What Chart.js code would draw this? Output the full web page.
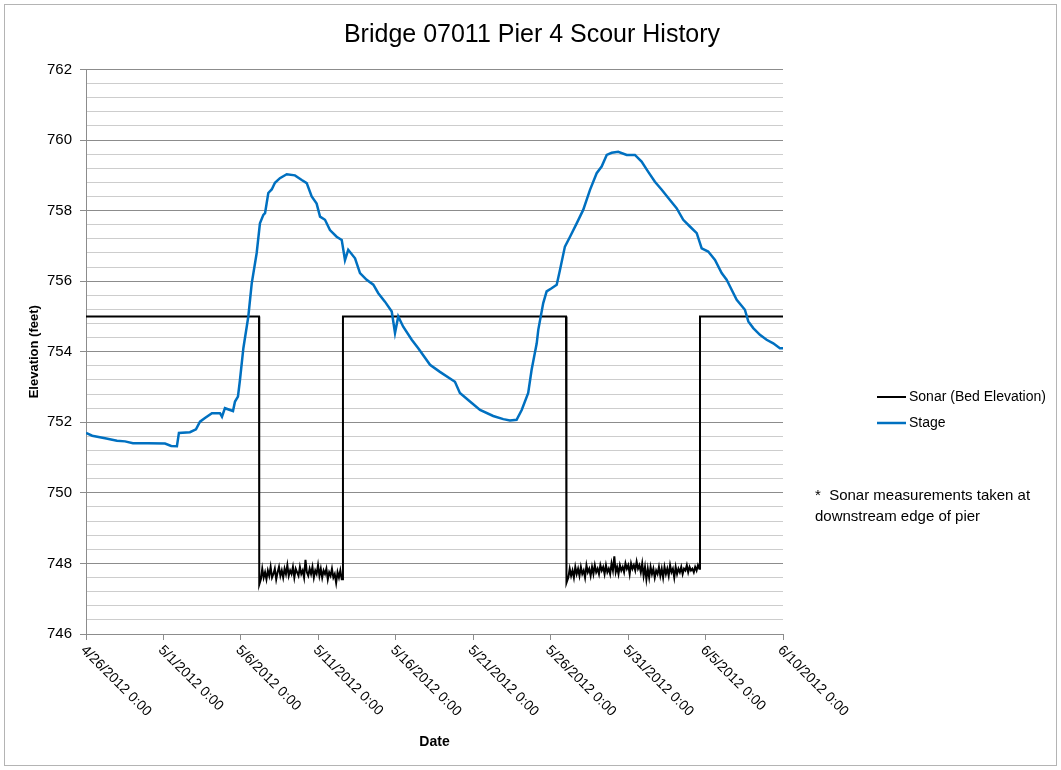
<!DOCTYPE html>
<html>
<head>
<meta charset="utf-8">
<title>Bridge 07011 Pier 4 Scour History</title>
<script src="https://cdn.jsdelivr.net/npm/chart.js@4"></script>
<style>
  body { margin: 0; background: #fff; }
  canvas { display: block; }
</style>
</head>
<body>
<canvas id="scourChart" width="1061" height="770"></canvas>
<script>
// x values are days since 4/26/2012 0:00
var xTickDays = [0, 5, 10, 15, 20, 25, 30, 35, 40, 45];
var xTickLabels = ['4/26/2012 0:00', '5/1/2012 0:00', '5/6/2012 0:00', '5/11/2012 0:00', '5/16/2012 0:00',
  '5/21/2012 0:00', '5/26/2012 0:00', '5/31/2012 0:00', '6/5/2012 0:00', '6/10/2012 0:00'];

// river stage (ft)
var stageDay = [0, 0.4, 1.23, 2.0, 2.52, 3.03, 4.0, 5.1, 5.5, 5.87, 6.0, 6.71, 7.1, 7.36, 7.68, 8.13, 8.65, 8.78,
  8.97, 9.49, 9.62, 9.81, 9.94, 10.16, 10.48, 10.7, 11.02, 11.23, 11.45, 11.56, 11.77, 11.99, 12.2, 12.52,
  12.96, 13.49, 13.93, 14.25, 14.57, 14.89, 15.11, 15.43, 15.75, 16.18, 16.51, 16.72, 16.93, 17.37, 17.69,
  18.12, 18.55, 18.87, 19.3, 19.74, 19.95, 20.16, 20.48, 21.03, 21.45, 22.21, 22.85, 23.82, 24.14, 24.79,
  25.44, 26.29, 26.94, 27.37, 27.8, 28.13, 28.55, 28.77, 29.1, 29.2, 29.52, 29.74, 30.06, 30.39, 30.6,
  30.92, 31.25, 31.68, 32.1, 32.54, 32.97, 33.29, 33.62, 33.94, 34.36, 34.91, 35.44, 35.87, 36.3, 36.73,
  37.17, 37.7, 38.13, 38.56, 38.99, 39.43, 39.75, 40.17, 40.61, 41.04, 41.36, 41.58, 42.01, 42.54, 42.76,
  43.08, 43.51, 43.94, 44.37, 44.8, 45.0];
var stageFt = [751.70, 751.62, 751.55, 751.48, 751.46, 751.41, 751.41, 751.40, 751.33, 751.32, 751.70, 751.72,
  751.80, 752.02, 752.12, 752.26, 752.26, 752.16, 752.40, 752.32, 752.59, 752.73, 753.20, 754.10, 755.00,
  755.94, 756.80, 757.64, 757.88, 757.93, 758.50, 758.60, 758.79, 758.92, 759.03, 759.00, 758.87, 758.78,
  758.40, 758.20, 757.83, 757.74, 757.45, 757.26, 757.17, 756.60, 756.89, 756.65, 756.23, 756.04, 755.90,
  755.66, 755.42, 755.14, 754.53, 755.00, 754.71, 754.34, 754.10, 753.63, 753.43, 753.15, 752.83, 752.59,
  752.35, 752.18, 752.09, 752.05, 752.07, 752.35, 752.83, 753.49, 754.24, 754.62, 755.38, 755.71, 755.80,
  755.90, 756.32, 756.98, 757.26, 757.64, 758.02, 758.59, 759.06, 759.25, 759.58, 759.64, 759.67, 759.58,
  759.58, 759.39, 759.10, 758.82, 758.59, 758.30, 758.07, 757.74, 757.55, 757.36, 756.93, 756.84, 756.60,
  756.23, 756.04, 755.85, 755.47, 755.19, 754.86, 754.67, 754.48, 754.34, 754.24, 754.10, 754.10];

// sonar bed elevation (ft): 755 while the transducer reads nothing,
// bed readings logged every 0.09 day during the two high-water periods
var sonarIdle = 755;
var sonarStep = 0.09;
var sonarRuns = [
  { from: 11.17, to: 16.59, start: 11.20 },
  { from: 30.99, to: 39.64, start: 31.05 }
];
var sonarBed1 = [
  747.40, 747.55, 747.85, 747.60, 747.75, 747.55, 747.80, 747.65, 747.90, 747.60,
  747.70, 747.85, 747.55, 747.75, 747.90, 747.65, 747.80, 747.60, 747.85, 747.70,
  747.95, 747.65, 747.80, 747.70, 747.90, 747.60, 747.85, 747.75, 747.65, 747.90,
  747.70, 747.80, 747.60, 748.10, 747.75, 747.65, 747.85, 747.70, 747.90, 747.60,
  747.80, 747.70, 747.95, 747.65, 747.85, 747.60, 747.80, 747.70, 747.85, 747.55,
  747.75, 747.65, 747.85, 747.60, 747.70, 747.45, 747.75, 747.60, 747.80, 747.55];
var sonarBed2 = [
  747.45, 747.60, 747.85, 747.65, 747.80, 747.60, 747.90, 747.70, 747.85, 747.65,
  747.90, 747.70, 747.80, 747.60, 747.95, 747.75, 747.85, 747.65, 747.90, 747.70,
  747.95, 747.75, 747.85, 747.70, 747.95, 747.80, 747.90, 747.70, 747.95, 747.75,
  747.85, 747.70, 748.00, 747.80, 748.20, 747.75, 747.90, 747.70, 747.95, 747.80,
  747.90, 747.75, 748.00, 747.85, 747.95, 747.70, 748.00, 747.85, 747.95, 747.80,
  748.05, 747.85, 747.95, 747.75, 748.00, 747.65, 747.90, 747.55, 747.85, 747.60,
  747.90, 747.70, 747.85, 747.60, 747.80, 747.70, 747.90, 747.65, 747.85, 747.60,
  747.90, 747.70, 747.85, 747.65, 747.95, 747.75, 747.85, 747.60, 747.90, 747.70,
  747.85, 747.75, 747.90, 747.70, 747.85, 747.80, 747.95, 747.75, 747.90, 747.80,
  747.85, 747.75, 747.90, 747.80, 747.95, 747.85];

function points(xs, ys) {
  return xs.map(function (x, i) { return { x: x, y: ys[i] }; });
}

// idle level with vertical drops into each logged run of bed readings
function sonarPoints() {
  var pts = [{ x: 0, y: sonarIdle }];
  [sonarBed1, sonarBed2].forEach(function (bed, r) {
    var run = sonarRuns[r];
    pts.push({ x: run.from, y: sonarIdle }, { x: run.from, y: bed[0] });
    bed.forEach(function (v, i) {
      pts.push({ x: run.start + i * sonarStep, y: v });
    });
    pts.push({ x: run.to, y: bed[bed.length - 1] }, { x: run.to, y: sonarIdle });
  });
  pts.push({ x: 45, y: sonarIdle });
  return pts;
}

function isMajor(v) {
  return Math.abs(v / 2 - Math.round(v / 2)) < 1e-6;
}

var FONT = '"Liberation Sans", Arial, sans-serif';
Chart.defaults.font.family = FONT;
Chart.defaults.color = '#000';

// title, rotated date labels, axis title, legend, footnote and outer frame
var decor = {
  id: 'decor',
  afterDraw: function (chart) {
    var c = chart.ctx;
    var xs = chart.scales.x;
    var area = chart.chartArea;
    c.save();
    c.fillStyle = '#000';

    c.font = '25px ' + FONT;
    c.textAlign = 'center';
    c.textBaseline = 'middle';
    c.fillText('Bridge 07011 Pier 4 Scour History', 532, 35);

    c.font = '14px ' + FONT;
    c.textAlign = 'left';
    c.textBaseline = 'top';
    xTickDays.forEach(function (d, i) {
      var px = xs.getPixelForValue(d);
      c.save();
      c.translate(px + 2, area.bottom + 9);
      c.rotate(Math.PI / 4);
      c.fillText(xTickLabels[i], 0, 0);
      c.restore();
    });

    c.font = 'bold 14px ' + FONT;
    c.textAlign = 'center';
    c.textBaseline = 'middle';
    c.fillText('Date', (area.left + area.right) / 2, 742);

    var legend = [
      { text: 'Sonar (Bed Elevation)', color: '#000', width: 2, y: 397 },
      { text: 'Stage', color: '#0070C0', width: 2.5, y: 423 }
    ];
    c.font = '14px ' + FONT;
    c.textAlign = 'left';
    legend.forEach(function (item) {
      c.strokeStyle = item.color;
      c.lineWidth = item.width;
      c.beginPath();
      c.moveTo(877, item.y);
      c.lineTo(906, item.y);
      c.stroke();
      c.fillText(item.text, 909, item.y);
    });

    c.font = '15px ' + FONT;
    c.fillText('*  Sonar measurements taken at', 815, 496);
    c.fillText('downstream edge of pier', 815, 517);

    c.strokeStyle = '#b4b4b4';
    c.lineWidth = 1;
    c.strokeRect(4.5, 4.5, 1052, 761);
    c.restore();
  }
};

var ctx = document.getElementById('scourChart');
var scourChart = new Chart(ctx, {
  type: 'line',
  data: {
    datasets: [
      {
        label: 'Sonar (Bed Elevation)',
        data: sonarPoints(),
        borderColor: '#000',
        borderWidth: 2,
        pointRadius: 0,
        order: 2
      },
      {
        label: 'Stage',
        data: points(stageDay, stageFt),
        borderColor: '#0070C0',
        borderWidth: 2.5,
        pointRadius: 0,
        order: 1
      }
    ]
  },
  options: {
    responsive: false,
    animation: false,
    devicePixelRatio: 1,
    layout: { padding: { left: 0, right: 278, top: 69.5, bottom: 0 } },
    plugins: {
      legend: { display: false },
      tooltip: { enabled: false },
      title: { display: false }
    },
    scales: {
      x: {
        type: 'linear',
        min: 0,
        max: 45,
        ticks: { stepSize: 5, display: false },
        grid: { drawOnChartArea: false, drawTicks: true, tickLength: 6, color: '#8c8c8c' },
        border: { color: '#8c8c8c' },
        afterFit: function (s) { s.height = 136; }
      },
      y: {
        min: 746,
        max: 762,
        ticks: {
          stepSize: 0.4,
          autoSkip: false,
          padding: 8,
          font: { size: 15 },
          callback: function (v) { return isMajor(v) ? Math.round(v) : ''; }
        },
        grid: {
          tickLength: 6,
          color: function (c) { return isMajor(c.tick.value) ? '#8c8c8c' : '#cdcdcd'; },
          tickColor: function (c) { return isMajor(c.tick.value) ? '#8c8c8c' : 'rgba(0,0,0,0)'; }
        },
        border: { color: '#8c8c8c' },
        title: {
          display: true,
          text: 'Elevation (feet)',
          font: { size: 13, weight: 'bold' },
          padding: { top: 27, bottom: 0 }
        },
        afterFit: function (s) { s.width = 86; }
      }
    }
  },
  plugins: [decor]
});
</script>
</body>
</html>
